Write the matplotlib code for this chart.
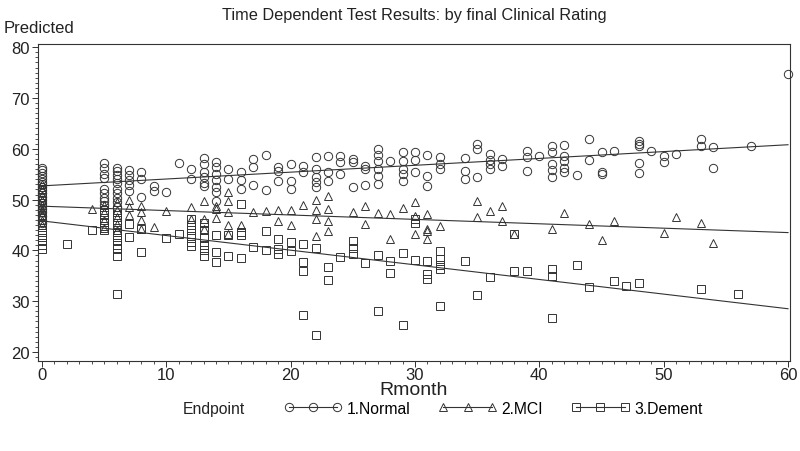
import matplotlib
matplotlib.use("Agg")
import matplotlib.pyplot as plt
from matplotlib.lines import Line2D
from matplotlib.ticker import MultipleLocator

plt.rcParams['font.family'] = ['Liberation Sans', 'DejaVu Sans']

# Normal (circles): month -> predicted values
normal_months = [0, 5, 6, 7, 8, 9, 10, 11, 12, 13, 14, 15, 16, 17, 18, 19, 20,
                 21, 22, 23, 24, 25, 26, 27, 28, 29, 30, 31, 32, 34, 35, 36, 37,
                 39, 40, 41, 42, 43, 44, 45, 46, 48, 49, 50, 51, 53, 54, 57, 60]
normal_values = [
    [56.3, 55.8, 55.2, 54.7, 54.0, 53.5, 53.0, 52.4, 51.8, 51.2, 50.6, 50.0,
     49.4, 48.8, 48.2, 47.5, 46.8, 46.0, 45.3],
    [57.2, 56.3, 55.0, 54.2, 52.0, 51.2, 50.4, 49.7, 49.0],
    [56.3, 55.6, 54.8, 54.0, 53.3, 52.0, 51.2, 50.3, 49.5, 48.6],
    [55.8, 54.8, 53.8, 52.8, 51.7],
    [55.4, 54.0, 50.5],
    [52.6, 51.7],
    [51.4],
    [57.2],
    [56.0, 54.0],
    [58.2, 57.0, 55.5, 54.5, 53.3, 52.6],
    [57.4, 56.4, 55.0, 53.9, 52.5, 51.5, 49.8],
    [56.0, 54.0],
    [55.4, 53.9, 52.0],
    [58.0, 56.5, 52.8],
    [58.7, 51.9],
    [56.4, 55.6, 53.6],
    [57.0, 53.6, 52.0],
    [56.6, 55.5],
    [58.4, 56.0, 54.5, 53.5, 52.5],
    [58.6, 55.4, 53.7],
    [58.6, 57.4, 55.0],
    [58.0, 57.4, 52.5],
    [56.6, 56.0, 52.8],
    [60.0, 58.8, 57.6, 56.0, 54.6, 53.0],
    [57.6],
    [59.3, 57.6, 56.0, 55.0, 53.6],
    [59.3, 57.8, 55.5],
    [58.7, 54.6, 52.6],
    [58.3, 57.0, 56.0],
    [58.2, 55.6, 54.0],
    [61.0, 60.0, 54.4],
    [59.0, 57.8, 57.0, 56.0],
    [58.0, 56.6],
    [59.5, 58.3, 55.6],
    [58.5],
    [60.5, 59.3, 57.0, 55.8, 54.4],
    [60.8, 58.5, 57.6, 56.2, 55.4],
    [54.8],
    [61.9, 57.8],
    [59.3, 55.5, 55.1],
    [59.5],
    [61.6, 61.0, 60.6, 57.2, 55.2],
    [59.5],
    [58.5, 57.4],
    [59.0],
    [62.0, 60.5],
    [60.3, 56.2],
    [60.6],
    [74.8],
]

# MCI (triangles)
mci_months = [0, 4, 5, 6, 7, 8, 9, 10, 12, 13, 14, 15, 16, 17, 18, 19, 20, 21,
              22, 23, 25, 26, 27, 28, 29, 30, 31, 32, 35, 36, 37, 38, 41, 42,
              44, 45, 46, 50, 51, 53, 54]
mci_values = [
    [53.0, 52.0, 51.0, 50.0, 49.0, 48.0, 47.0, 46.0, 45.0],
    [48.1],
    [49.0, 47.5, 46.0, 44.5],
    [49.5, 48.0, 46.6, 45.2, 44.0],
    [50.0, 48.5, 47.0],
    [48.7, 47.5, 46.0, 44.2],
    [44.6],
    [47.7],
    [48.5, 46.2],
    [49.7, 46.2, 44.2],
    [48.7, 48.1, 46.4],
    [51.5, 49.7, 47.5, 45.0, 43.2],
    [45.0],
    [47.5],
    [47.7],
    [48.0, 45.8],
    [48.0, 45.0],
    [49.0],
    [50.0, 48.0, 46.2, 42.8],
    [50.7, 48.1, 45.8, 43.8],
    [47.5],
    [48.7, 45.2],
    [47.3],
    [47.1, 42.2],
    [48.3],
    [49.5, 46.7, 43.2],
    [47.1, 44.2, 43.8, 42.2],
    [44.8],
    [49.7, 46.6],
    [47.7],
    [48.7, 45.8],
    [43.2],
    [44.2],
    [47.3],
    [45.2],
    [42.0],
    [45.8],
    [43.4],
    [46.5],
    [45.4],
    [41.4],
]

# Dement (squares)
dement_months = [0, 2, 4, 5, 6, 7, 8, 10, 11, 12, 13, 14, 15, 16, 17, 18, 19,
                 20, 21, 22, 23, 24, 25, 26, 27, 28, 29, 30, 31, 32, 34, 35,
                 36, 38, 39, 41, 43, 44, 46, 47, 48, 53, 56]
dement_values = [
    [52.0, 51.0, 50.0, 49.0, 48.0, 47.0, 46.0, 45.0, 44.0, 43.0, 42.0, 41.0,
     40.3],
    [41.2],
    [44.0],
    [48.0, 47.0, 46.3, 45.5, 44.8, 44.0],
    [48.0, 47.0, 46.0, 45.0, 44.0, 43.0, 42.0, 41.0, 40.3, 38.8, 31.4],
    [45.2, 42.6],
    [44.2, 39.7],
    [42.5],
    [43.2],
    [46.2, 45.0, 44.0, 42.8, 41.6, 40.8],
    [45.4, 44.0, 42.5, 41.0, 40.0, 38.9],
    [43.1, 39.7, 37.7],
    [43.1, 38.9],
    [49.1, 43.6, 43.0, 38.5],
    [40.6],
    [43.8, 40.1],
    [42.2, 40.3, 39.3],
    [41.7, 39.9],
    [41.2, 37.7, 35.9, 27.3],
    [40.4, 23.3],
    [36.7, 34.2],
    [38.7],
    [41.8, 40.5, 39.3],
    [37.5],
    [39.1, 28.1],
    [37.9, 35.5],
    [39.5, 25.3],
    [46.2, 45.4, 38.1],
    [37.9, 35.3, 34.4],
    [39.9, 38.3, 37.2, 36.4, 29.0],
    [37.9],
    [31.2],
    [34.8],
    [43.2, 35.9],
    [35.9],
    [36.3, 34.9, 26.7],
    [37.1],
    [32.8],
    [34.0],
    [33.0],
    [33.6],
    [32.4],
    [31.4],
]

# fitted lines: value at month 0 and month 60
fit_start = [52.7, 48.7, 45.8]
fit_end = [60.8, 43.5, 28.5]
fit_range = [0, 60]

series_names = ['1.Normal', '2.MCI', '3.Dement']
series_markers = ['o', '^', 's']

fig = plt.figure(figsize=(8, 4.52), dpi=100)
ax = fig.add_axes([0.0475, 0.199, 0.94, 0.701])

ink = '#333333'
all_months = [normal_months, mci_months, dement_months]
all_values = [normal_values, mci_values, dement_values]
for months, values, mk in zip(all_months, all_values, series_markers):
    xs, ys = [], []
    for m, vals in zip(months, values):
        xs += [m] * len(vals)
        ys += vals
    ax.plot(xs, ys, linestyle='none', marker=mk, markersize=6.0,
            markerfacecolor='none', markeredgecolor=ink, markeredgewidth=0.7,
            clip_on=False, zorder=3)

for a, b in zip(fit_start, fit_end):
    ax.plot(fit_range, [a, b], color=ink, linewidth=0.8, zorder=2)

ax.set_xlim(-0.32, 60.16)
ax.set_ylim(18.2, 80.6)
ax.xaxis.set_major_locator(MultipleLocator(10))
ax.xaxis.set_minor_locator(MultipleLocator(1))
ax.yaxis.set_major_locator(MultipleLocator(10))
ax.yaxis.set_minor_locator(MultipleLocator(1))
ax.tick_params(which='major', length=4, width=0.7, labelsize=12, color=ink,
               labelcolor='#222222')
ax.tick_params(axis='x', which='major', pad=0)
ax.tick_params(axis='y', which='major', pad=2)
ax.tick_params(which='minor', length=2.5, width=0.6, color=ink)
for s in ax.spines.values():
    s.set_linewidth(0.8)
    s.set_color(ink)

ax.set_xlabel('Rmonth', fontsize=14, color='#222222', va='center')
ax.xaxis.set_label_coords(0.5, -0.09)
fig.text(0.004, 0.938, 'Predicted', fontsize=12, color='#222222', ha='left',
         va='center')
fig.text(0.518, 0.966, 'Time Dependent Test Results: by final Clinical Rating',
         fontsize=11.8, color='#222222', ha='center', va='center')

handles = [Line2D([0], [0], color=ink, linewidth=0.8, marker=mk,
                  markersize=6.0, markerfacecolor='none',
                  markeredgecolor=ink, markeredgewidth=0.7)
           for mk in series_markers]
fig.text(0.229, 0.095, 'Endpoint', fontsize=11.3, color='#222222', ha='left',
         va='center')
fig.legend(handles, series_names, loc='center left',
           bbox_to_anchor=(0.355, 0.095), ncol=3, frameon=False,
           numpoints=3, handlelength=3.7, handletextpad=0.3,
           columnspacing=1.8, fontsize=11.3, borderpad=0, borderaxespad=0)

fig.savefig('out.png', dpi=100)
